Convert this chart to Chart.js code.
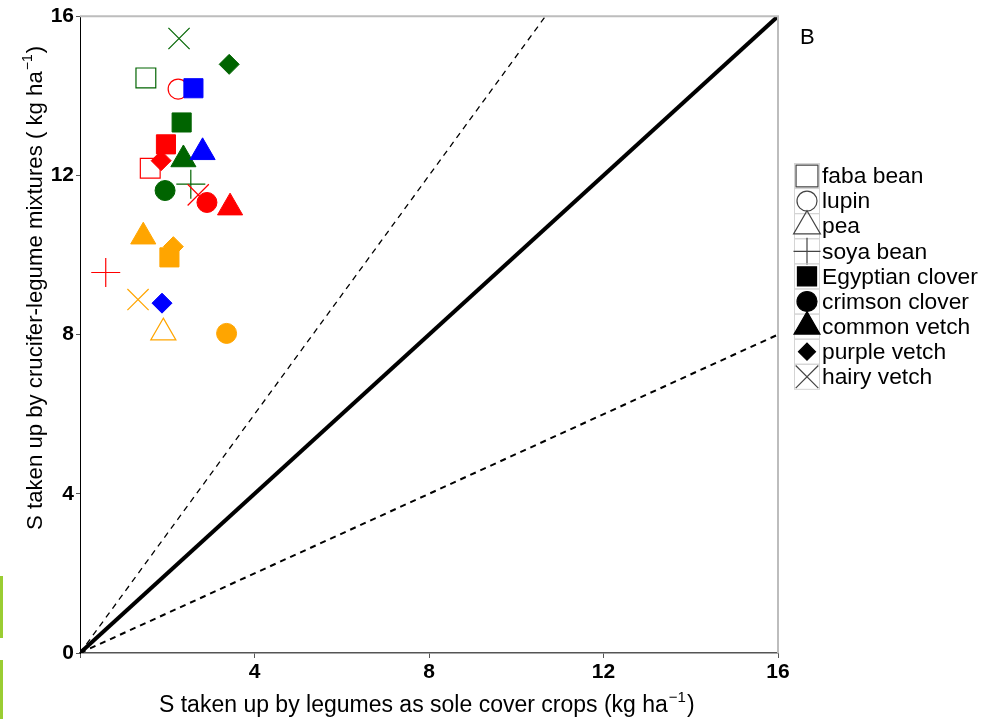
<!DOCTYPE html>
<html>
<head>
<meta charset="utf-8">
<script src="https://cdn.jsdelivr.net/npm/chart.js@4/dist/chart.umd.min.js"></script>
<style>
  html, body { margin: 0; padding: 0; background: #fff; }
  #wrap { position: relative; width: 984px; height: 719px; }
  .bar { position: absolute; left: 0; width: 3px; background: #9acd32; }
</style>
</head>
<body>
<div id="wrap">
  <canvas id="c" width="984" height="719"></canvas>
  <div class="bar" style="top:576px;height:62px"></div>
  <div class="bar" style="top:660px;height:59px"></div>
</div>
<script>
// legumes (legend order), one value per legume for each crucifer colour group
var legumes = ['faba bean', 'lupin', 'pea', 'soya bean', 'Egyptian clover',
               'crimson clover', 'common vetch', 'purple vetch', 'hairy vetch'];

var redX    = [1.61, 2.25, null, 0.59, 1.97, 2.91, 3.44, 1.86, 2.71];
var redY    = [12.18, 14.17, null, 9.56, 12.78, 11.32, 11.19, 12.37, 11.51];
var greenX  = [1.51, null, null, 2.54, 2.33, 1.95, 2.37, 3.42, 2.27];
var greenY  = [14.45, null, null, 11.78, 13.33, 11.62, 12.40, 14.79, 15.44];
var blueX   = [null, null, null, null, 2.60, null, 2.81, 1.88, null];
var blueY   = [null, null, null, null, 14.19, null, 12.58, 8.79, null];
var orangeX = [null, null, 1.91, null, 2.05, 3.36, 1.45, 2.14, 1.33];
var orangeY = [null, null, 8.05, null, 9.94, 8.03, 10.46, 10.21, 8.88];

// reference lines 1:1, 1.5:1 and 0.5:1
var lineX     = [0, 16];
var lineY     = [0, 16];
var upperX    = [0, 10.67];
var upperY    = [0, 16];
var lowerX    = [0, 16];
var lowerY    = [0, 8];

var xTicks = [0, 4, 8, 12, 16];
var yTicks = [0, 4, 8, 12, 16];

var groups = [
  {x: redX, y: redY, color: '#ff0000'},
  {x: greenX, y: greenY, color: '#006400'},
  {x: blueX, y: blueY, color: '#0000ff'},
  {x: orangeX, y: orangeY, color: '#ffa500'}
];

// r = marker radius on the plot, lr = radius in the legend
var shapes = [
  {style: 'rect', open: true, r: 14, lr: 15.5},
  {style: 'circle', open: true, r: 10, lr: 10},
  {style: 'triangle', open: true, r: 14.5, lr: 15.5},
  {style: 'cross', open: true, r: 14.5, lr: 13.5},
  {style: 'rect', open: false, r: 13.5, lr: 13.5},
  {style: 'circle', open: false, r: 10, lr: 10},
  {style: 'triangle', open: false, r: 14.5, lr: 15},
  {style: 'rectRot', open: false, r: 10, lr: 8.5},
  {style: 'crossRot', open: true, r: 15, lr: 16}
];

function pairs(xs, ys) {
  return xs.map(function (v, i) { return {x: v, y: ys[i]}; });
}

var datasets = [];
legumes.forEach(function (name, i) {
  var pts = [], cols = [];
  groups.forEach(function (g) {
    if (g.x[i] !== null) {
      pts.push({x: g.x[i], y: g.y[i]});
      cols.push(g.color);
    }
  });
  var s = shapes[i];
  datasets.push({
    label: name,
    data: pts,
    pointStyle: s.style,
    pointRadius: s.r,
    pointHoverRadius: s.r,
    pointBorderColor: cols,
    pointBackgroundColor: s.open ? 'rgba(0,0,0,0)' : cols,
    pointBorderWidth: s.open ? 1.2 : 1,
    order: -i
  });
});

datasets.push({
  label: '1:1', data: pairs(lineX, lineY), showLine: true, pointRadius: 0,
  borderColor: '#000', borderWidth: 4, order: 100
});
datasets.push({
  label: 'upper', data: pairs(upperX, upperY), showLine: true, pointRadius: 0,
  borderColor: '#000', borderWidth: 1.3, borderDash: [6, 5], order: 101
});
datasets.push({
  label: 'lower', data: pairs(lowerX, lowerY), showLine: true, pointRadius: 0,
  borderColor: '#000', borderWidth: 2, borderDash: [6, 5], order: 102
});

var FONT = '"Liberation Sans", Arial, sans-serif';

// titles with superscripts, frame lines, legend, panel letter
var extras = {
  id: 'extras',
  afterDraw: function (chart) {
    var ctx = chart.ctx, a = chart.chartArea;
    ctx.save();
    ctx.strokeStyle = '#bdbdbd';
    ctx.lineWidth = 2;
    ctx.beginPath();
    ctx.moveTo(a.left, a.top);
    ctx.lineTo(a.right, a.top);
    ctx.lineTo(a.right, a.bottom);
    ctx.stroke();

    function supText(main, sup, tail, size) {
      ctx.font = size + 'px ' + FONT;
      ctx.fillText(main, 0, 0);
      var w = ctx.measureText(main).width;
      ctx.font = Math.round(size * 0.64) + 'px ' + FONT;
      ctx.fillText(sup, w + 1, -size * 0.45);
      var w2 = ctx.measureText(sup).width;
      ctx.font = size + 'px ' + FONT;
      ctx.fillText(tail, w + w2 + 2, 0);
    }
    ctx.fillStyle = '#000';
    ctx.textBaseline = 'alphabetic';
    ctx.textAlign = 'left';

    ctx.save();
    ctx.translate(159, 712);
    supText('S taken up by legumes as sole cover crops (kg ha', '\u22121', ')', 23);
    ctx.restore();

    ctx.save();
    ctx.translate(42, 530);
    ctx.rotate(-Math.PI / 2);
    supText('S taken up by crucifer-legume mixtures ( kg ha', '\u22121', ')', 22.2);
    ctx.restore();

    ctx.font = '22px ' + FONT;
    ctx.textBaseline = 'middle';
    ctx.fillText('B', 800, 38);

    // legend
    legumes.forEach(function (name, i) {
      var cy = 176 + i * 25.1;
      ctx.strokeStyle = '#d4d4d4';
      ctx.lineWidth = 1;
      ctx.strokeRect(794.5, cy - 12.5, 25, 25);
      var s = shapes[i];
      ctx.fillStyle = s.open ? 'rgba(0,0,0,0)' : '#000';
      ctx.strokeStyle = s.open ? '#444' : '#000';
      ctx.lineWidth = 1.2;
      Chart.helpers.drawPoint(ctx, {pointStyle: s.style, radius: s.lr, borderWidth: 1, rotation: 0}, 807, cy);
      ctx.fillStyle = '#000';
      ctx.font = '22.8px ' + FONT;
      ctx.textBaseline = 'middle';
      ctx.fillText(name, 822, cy + 1);
    });
    ctx.restore();
  }
};

new Chart(document.getElementById('c'), {
  type: 'scatter',
  data: {datasets: datasets},
  options: {
    responsive: false,
    animation: false,
    devicePixelRatio: 1,
    layout: {padding: {top: 16, right: 206, left: 0, bottom: 0}},
    plugins: {legend: {display: false}, tooltip: {enabled: false}},
    scales: {
      x: {
        type: 'linear', min: 0, max: 16,
        afterBuildTicks: function (s) { s.ticks = xTicks.map(function (v) { return {value: v}; }); },
        afterFit: function (s) { s.height = 66; },
        grid: {drawOnChartArea: false, drawTicks: true, tickLength: 5, color: '#555'},
        border: {color: '#555', width: 1.5},
        ticks: {
          color: '#000', padding: 2,
          font: {family: FONT, size: 21, weight: 'bold'},
          callback: function (v) { return v === 0 ? '' : v; }
        }
      },
      y: {
        type: 'linear', min: 0, max: 16,
        afterBuildTicks: function (s) { s.ticks = yTicks.map(function (v) { return {value: v}; }); },
        afterFit: function (s) { s.width = 80; },
        grid: {drawOnChartArea: false, drawTicks: true, tickLength: 4, color: '#555'},
        border: {color: '#000', width: 1},
        ticks: {
          color: '#000', padding: 2,
          font: {family: FONT, size: 21, weight: 'bold'}
        }
      }
    }
  },
  plugins: [extras]
});
</script>
</body>
</html>
